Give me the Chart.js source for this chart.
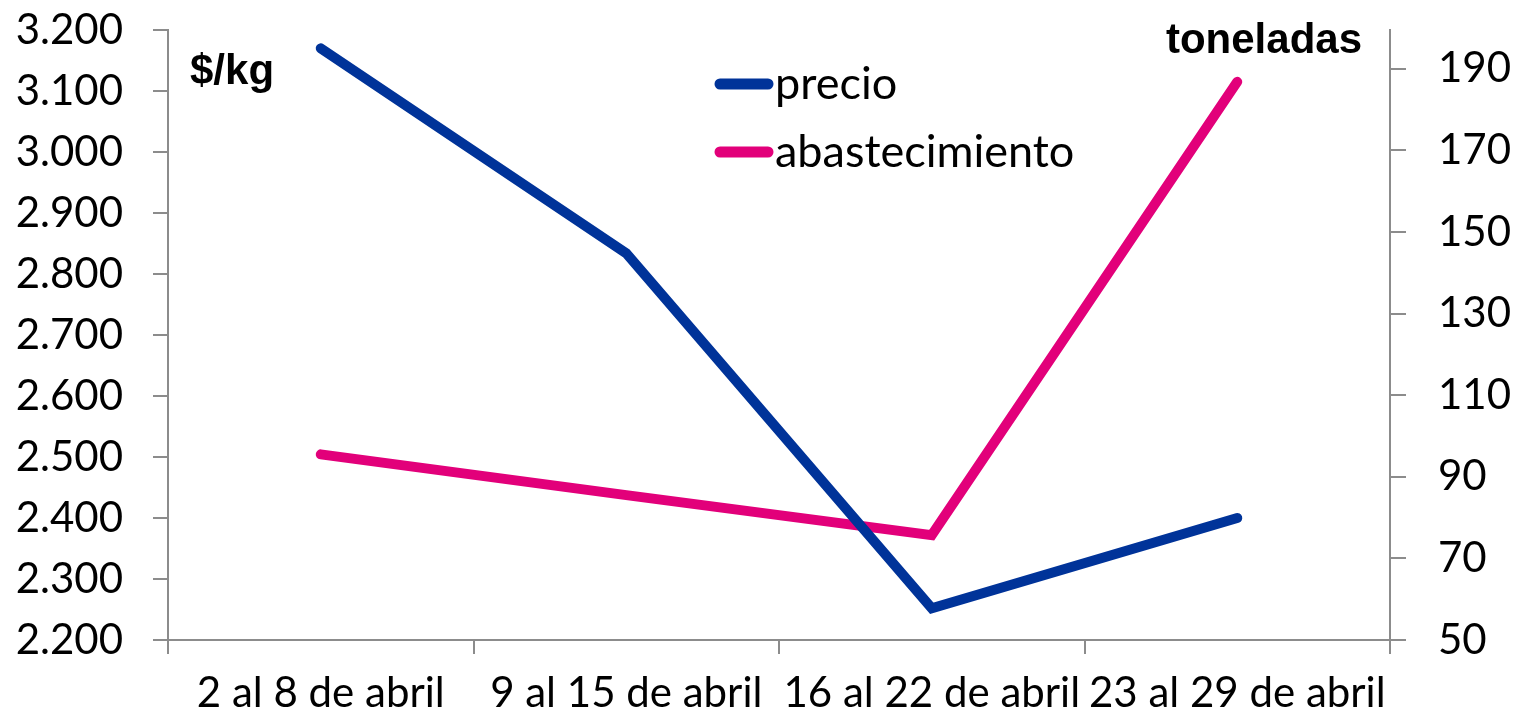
<!DOCTYPE html>
<html>
<head>
<meta charset="utf-8">
<script src="https://cdn.jsdelivr.net/npm/chart.js@4/dist/chart.umd.min.js"></script>
<style>
  html, body { margin: 0; padding: 0; background: #fff; }
  #wrap { width: 1515px; height: 717px; }
</style>
</head>
<body>
<div id="wrap"><canvas id="chart" width="1515" height="717"></canvas></div>
<script>
const semanas = ['2 al 8 de abril', '9 al 15 de abril', '16 al 22 de abril', '23 al 29 de abril'];
const precio = [3170, 2834, 2252, 2400];
const abastecimiento = [95.5, 85.5, 75.7, 186.8];
const ticksPrecio = [2200, 2300, 2400, 2500, 2600, 2700, 2800, 2900, 3000, 3100, 3200];
const ticksToneladas = [50, 70, 90, 110, 130, 150, 170, 190];

const FONT = 'Lato, "Open Sans", sans-serif';
const AXIS = '#8c8c8c';

function miles(v) {
  return String(v).replace(/\B(?=(\d{3})+(?!\d))/g, '.');
}

// fixed plot area, like the original
function fitY(width) {
  return function (scale) {
    scale.width = width;
    scale.paddingTop = 0;
    scale.paddingBottom = 0;
  };
}

// legend + axis titles, drawn like the Excel original
const extras = {
  id: 'extras',
  afterDraw(chart) {
    const ctx = chart.ctx;
    const area = chart.chartArea;
    ctx.save();
    ctx.fillStyle = '#000';
    ctx.font = 'bold 42px "Liberation Sans", Arial, sans-serif';
    ctx.textBaseline = 'middle';
    ctx.textAlign = 'left';
    ctx.fillText('$/kg', area.left + 22, 72);
    ctx.textAlign = 'right';
    ctx.fillText('toneladas', area.right - 28, 41);

    ctx.font = '45px ' + FONT;
    ctx.textAlign = 'left';
    chart.data.datasets.forEach((ds, i) => {
      const y = 84 + i * 68;
      ctx.strokeStyle = ds.borderColor;
      ctx.lineWidth = 11;
      ctx.lineCap = 'round';
      ctx.beginPath();
      ctx.moveTo(720, y);
      ctx.lineTo(768, y);
      ctx.stroke();
      ctx.fillText(ds.label, 775, y);
    });
    ctx.restore();
  }
};

new Chart(document.getElementById('chart'), {
  type: 'line',
  data: {
    labels: semanas,
    datasets: [
      {
        label: 'precio',
        data: precio,
        yAxisID: 'y',
        borderColor: '#003399',
        borderWidth: 10,
        borderCapStyle: 'round',
        borderJoinStyle: 'miter',
        pointRadius: 0,
        tension: 0
      },
      {
        label: 'abastecimiento',
        data: abastecimiento,
        yAxisID: 'y1',
        borderColor: '#e2007a',
        borderWidth: 10,
        borderCapStyle: 'round',
        borderJoinStyle: 'miter',
        pointRadius: 0,
        tension: 0
      }
    ]
  },
  options: {
    responsive: false,
    animation: false,
    layout: { padding: { top: 30, left: 0, right: 0, bottom: 0 } },
    plugins: {
      legend: { display: false },
      tooltip: { enabled: false }
    },
    scales: {
      x: {
        offset: true,
        grid: { offset: true, drawOnChartArea: false, drawTicks: true, tickLength: 14, color: AXIS, lineWidth: 2 },
        border: { color: AXIS, width: 2 },
        ticks: { color: '#000', font: { family: FONT, size: 42 }, padding: 14, maxRotation: 0, autoSkip: false },
        afterFit(scale) { scale.height = 77; }
      },
      y: {
        position: 'left',
        min: 2200,
        max: 3200,
        afterBuildTicks(scale) { scale.ticks = ticksPrecio.map(v => ({ value: v })); },
        grid: { drawOnChartArea: false, tickLength: 15, color: AXIS, lineWidth: 2 },
        border: { color: AXIS, width: 2 },
        ticks: { color: '#000', font: { family: FONT, size: 42 }, padding: 30, callback: v => miles(v) },
        afterFit: fitY(168)
      },
      y1: {
        position: 'right',
        min: 50,
        max: 199.5,
        afterBuildTicks(scale) { scale.ticks = ticksToneladas.map(v => ({ value: v })); },
        grid: { drawOnChartArea: false, tickLength: 16, color: AXIS, lineWidth: 2 },
        border: { color: AXIS, width: 2 },
        ticks: { color: '#000', font: { family: FONT, size: 42 }, padding: 32 },
        afterFit: fitY(125)
      }
    }
  },
  plugins: [extras]
});
</script>
</body>
</html>
